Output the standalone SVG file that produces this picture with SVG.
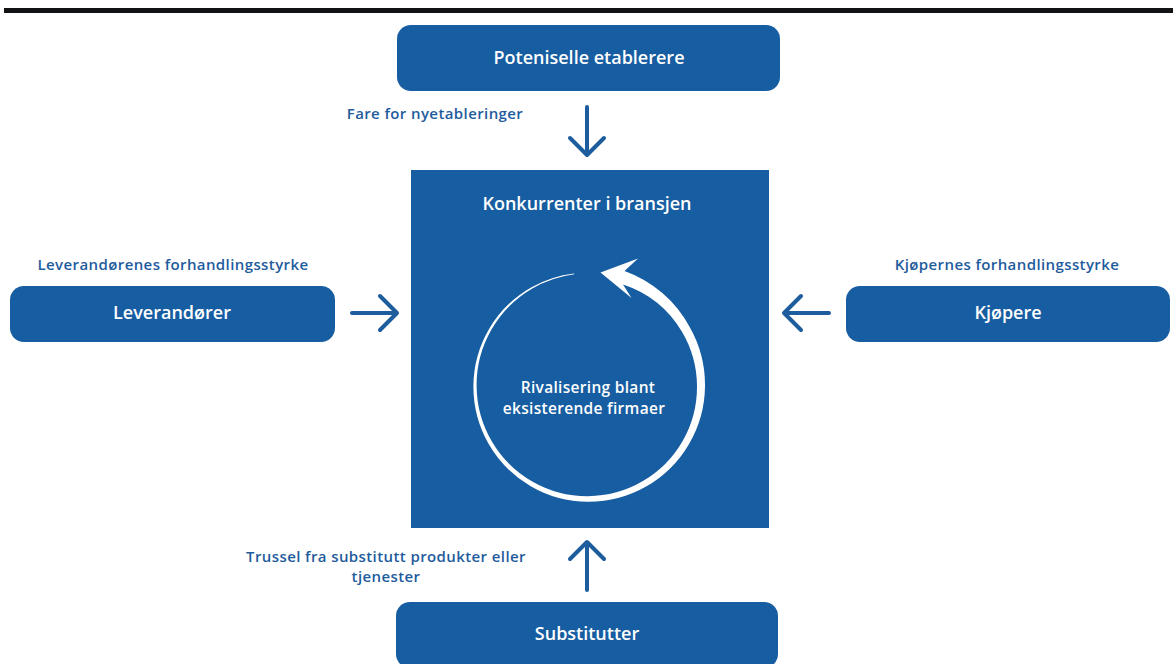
<svg xmlns="http://www.w3.org/2000/svg" width="1173" height="664" viewBox="0 0 1173 664">
  <style>
    .box { fill: #175da1; }
    .title { font-family: "Open Sans", "Liberation Sans", sans-serif; font-weight: 600; font-size: 18px; fill: #ffffff; text-anchor: middle; }
    .lbl { font-family: "Open Sans", "Liberation Sans", sans-serif; font-weight: 600; font-size: 15px; letter-spacing: 0.4px; fill: #1f5c9d; text-anchor: middle; }
    .inner { font-family: "Open Sans", "Liberation Sans", sans-serif; font-weight: 600; font-size: 15.5px; letter-spacing: 0.3px; fill: #ffffff; text-anchor: middle; }
    .conn { fill: none; stroke: #1d5c9d; stroke-width: 4; stroke-linecap: round; stroke-linejoin: round; }
  </style>
  <rect x="0" y="0" width="1173" height="664" fill="#ffffff"/>
  <rect x="4" y="8" width="1169" height="5" fill="#121314"/>

  <g id="potensielle">
    <rect class="box" x="397" y="25" width="383" height="66" rx="14"/>
    <text class="title" x="589" y="64">Poteniselle etablerere</text>
  </g>

  <g id="konkurrenter">
    <rect class="box" x="411" y="170" width="358" height="358"/>
    <text class="title" x="587" y="210">Konkurrenter i bransjen</text>
    <path fill="#ffffff" d="M574.2,273.4 A113.6,113.6 0 0 0 531.1,287.4 A114,114 0 0 0 489.1,328.9 A114.4,114.4 0 0 0 473.4,386 A114.8,114.8 0 0 0 488.4,443.5 A115.2,115.2 0 0 0 530.3,485.9 A115.6,115.6 0 0 0 588,501.75 A116,116 0 0 0 646.1,486.6 A116.3,116.3 0 0 0 688.9,444.25 A116.8,116.8 0 0 0 705,386 A117.3,117.3 0 0 0 689.8,327.25 A120,120 0 0 0 624.5,271 L638,258.5 L600.5,272.5 L631.5,298 L623,284.5 A108,108 0 0 1 682,331.75 A108.7,108.7 0 0 1 697,386 A109.2,109.2 0 0 1 682.8,440.75 A109.7,109.7 0 0 1 642.9,481.1 A110,110 0 0 1 588,496.25 A110.4,110.4 0 0 1 532.7,481.8 A110.8,110.8 0 0 1 491.9,441.5 A111.2,111.2 0 0 1 476.6,386 A111.6,111.6 0 0 1 491.2,330.1 A112,112 0 0 1 531.9,288.8 A112.4,112.4 0 0 1 574.3,274.3 Z"/>
    <text class="inner" x="588" y="393">Rivalisering blant</text>
    <text class="inner" x="584" y="414">eksisterende firmaer</text>
  </g>

  <g id="leverandorer">
    <rect class="box" x="10" y="286" width="325" height="56" rx="14"/>
    <text class="title" x="172" y="319">Leverandører</text>
  </g>

  <g id="kjopere">
    <rect class="box" x="846" y="286" width="324" height="56" rx="14"/>
    <text class="title" x="1008" y="319">Kjøpere</text>
  </g>

  <g id="substitutter">
    <rect class="box" x="396" y="602" width="382" height="66" rx="14"/>
    <text class="title" x="587" y="640">Substitutter</text>
  </g>

  <g id="labels">
    <text class="lbl" x="435" y="119">Fare for nyetableringer</text>
    <text class="lbl" x="173" y="270">Leverandørenes forhandlingsstyrke</text>
    <text class="lbl" x="1007" y="270">Kjøpernes forhandlingsstyrke</text>
    <text class="lbl" x="386" y="562">Trussel fra substitutt produkter eller</text>
    <text class="lbl" x="386" y="582">tjenester</text>
  </g>

  <g id="connectors">
    <path class="conn" d="M587,107 L587,154 M570,138 L587,155 L604,138"/>
    <path class="conn" d="M352,313 L396,313 M380,296 L397,313 L380,330"/>
    <path class="conn" d="M829,313 L785,313 M801,296 L784,313 L801,330"/>
    <path class="conn" d="M587,590 L587,543 M570,559 L587,542 L604,559"/>
  </g>
</svg>
